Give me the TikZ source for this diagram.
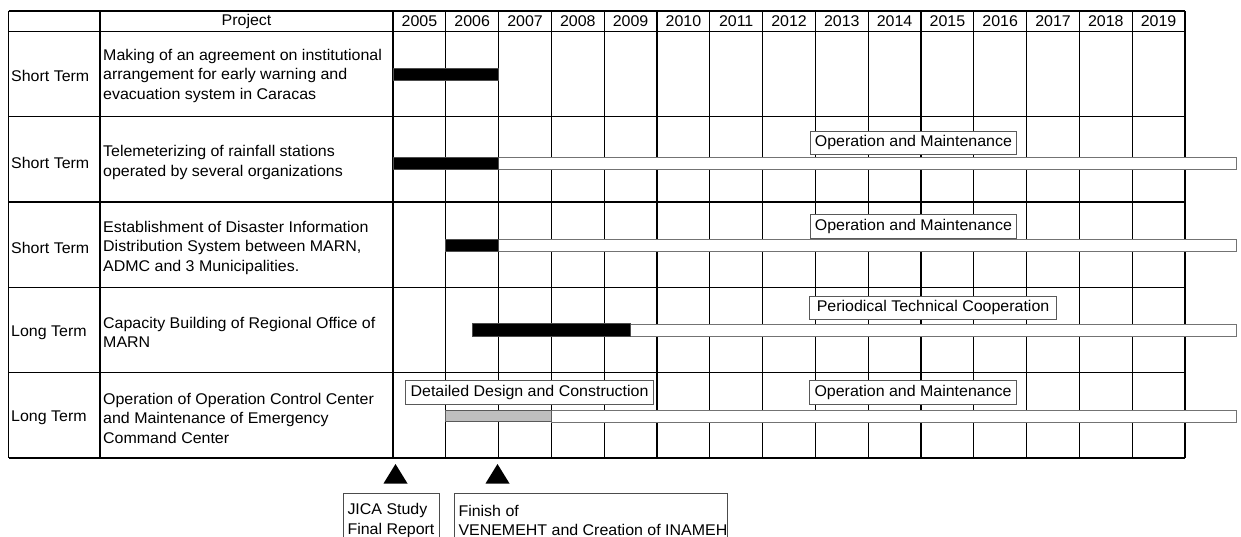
\documentclass[tikz,border=0pt]{standalone}
\usepackage{fontspec}
\setmainfont{Liberation Sans}[FakeStretch=1.03]
\begin{document}
\begin{tikzpicture}[x=1pt,y=-1pt,
  txt/.style={font=\fontsize{15.5}{19.5}\selectfont, inner sep=0pt},
  cell/.style={txt, align=left, anchor=west},
  head/.style={txt, anchor=center},
  gridline/.style={line width=1.2pt, black},
  rowline/.style={line width=1.6pt, black},
  planbar/.style={draw=black!55, line width=0.8pt, fill=white},
  workbar/.style={draw=black!70, line width=0.8pt, fill=black},
  buildbar/.style={draw=black!65, line width=0.8pt, fill=black!25},
  tag/.style={txt, draw=black!65, line width=0.8pt, fill=white, anchor=north west,
              minimum height=23.5pt, inner xsep=3pt},
  milestone/.style={fill=black},
  note/.style={draw=black!70, line width=0.8pt}
]
\useasboundingbox (0,0) rectangle (1241,537);

% ---- table grid ----
\foreach \i in {0,...,15}
  \draw[gridline] ({393+52.8*\i},11) -- ({393+52.8*\i},457.7);
\draw[gridline] (100,11) -- (100,457.7);
\draw[rowline] (8.5,11) -- (8.5,457.7);
\draw[gridline] (8.5,11) -- (1185,11);
\draw[gridline] (8.5,31.7) -- (1185,31.7);
\foreach \yy in {116.7,202,287.3,372.3}
  \draw[rowline] (8.5,\yy) -- (1185,\yy);
\draw[rowline] (8.5,457.7) -- (1185,457.7);

% ---- header ----
\node[head] (proj) at (246.5,21.5) {Project};
\foreach \yr [count=\i from 0] in {2005,...,2019}
  \node[head] (y\yr) at ({419.4+52.8*\i},21.5) {\yr};

% ---- row texts ----
\node[cell] (t1) at (11,75.5) {Short Term};
\node[cell] (p1) at (103,75.5) {Making of an agreement on institutional\\arrangement for early warning and\\evacuation system in Caracas};
\node[cell] (t2) at (11,162.5) {Short Term};
\node[cell] (p2) at (103,162.5) {Telemeterizing of rainfall stations\\operated by several organizations};
\node[cell] (t3) at (11,247.5) {Short Term};
\node[cell] (p3) at (103,247.5) {Establishment of Disaster Information\\Distribution System between MARN,\\ADMC and 3 Municipalities.};
\node[cell] (t4) at (11,332.5) {Long Term};
\node[cell] (p4) at (103,332.5) {Capacity Building of Regional Office of\\MARN};
\node[cell] (t5) at (11,418) {Long Term};
\node[cell] (p5) at (103,418) {Operation of Operation Control Center\\and Maintenance of Emergency\\Command Center};

% ---- schedule bars ----
\draw[workbar] (393,68) rectangle (498.6,80);

\draw[planbar] (498.6,157) rectangle (1236.5,169);
\draw[workbar] (393,157) rectangle (498.6,169);

\draw[planbar] (498.6,239) rectangle (1236.5,251);
\draw[workbar] (445.8,239) rectangle (498.6,251);

\draw[planbar] (630.6,324) rectangle (1236.5,336.7);
\draw[workbar] (472.2,323.3) rectangle (630.6,336.7);

\draw[planbar] (551.4,410) rectangle (1236.5,422.3);
\draw[buildbar] (445.8,410) rectangle (551.4,421);

% ---- phase tags ----
\node[tag, minimum width=206pt] (om2) at (810,130.7) {Operation and Maintenance};
\node[tag, minimum width=206pt] (om3) at (810,214.3) {Operation and Maintenance};
\node[tag, minimum width=246.7pt] (ptc4) at (809.3,295.7) {Periodical Technical Cooperation};
\node[tag, minimum width=248.3pt] (ddc5) at (405,380) {Detailed Design and Construction};
\node[tag, minimum width=206.7pt] (om5) at (809.3,380) {Operation and Maintenance};

% ---- milestones ----
\path[milestone] (395.5,464) -- (407.5,483.5) -- (383.5,483.5) -- cycle;
\path[milestone] (497.5,464) -- (509.5,483.5) -- (485.5,483.5) -- cycle;

\draw[note] (343.3,540) |- (439.3,493.3) -- (439.3,540);
\node[cell] (jica) at (347.3,520.3) {JICA Study\\Final Report};
\draw[note] (454,540) |- (727.7,493.3) -- (727.7,540);
\node[cell] (finish) at (458.3,520.3) {Finish of\\VENEMEHT and Creation of INAMEH};
\end{tikzpicture}
\end{document}
